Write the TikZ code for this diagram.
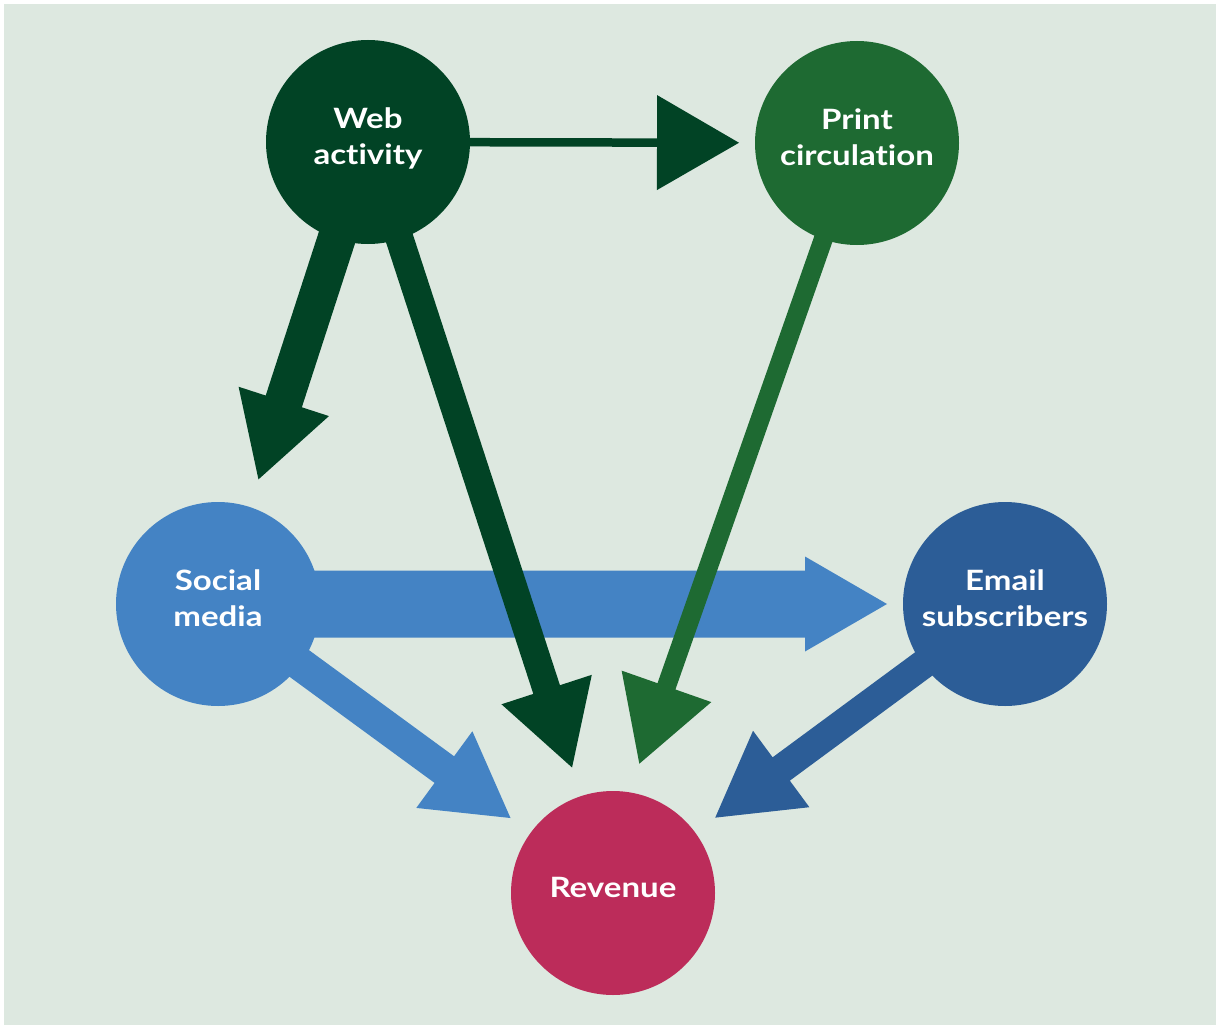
\documentclass[tikz,border=0pt]{standalone}
\usepackage{fontspec}
\setmainfont{Lato}[FakeStretch=1.18, Ligatures=NoCommon]
\usetikzlibrary{calc}
\definecolor{bgc}{RGB}{221,232,224}
\definecolor{webc}{RGB}{1,67,37}
\definecolor{printc}{RGB}{30,106,50}
\definecolor{socialc}{RGB}{68,131,196}
\definecolor{emailc}{RGB}{44,93,151}
\definecolor{revc}{RGB}{188,44,90}
\pgfdeclarelayer{bgl}
\pgfsetlayers{bgl,main}
% #1 colour, #2 from node, #3 to node, #4 half shaft width, #5 tip distance from target centre
\newcommand\fatarrow[5]{%
  \coordinate (fa-tip) at ($(#3.center)!#5!(#2.center)$);
  \coordinate (fa-base) at ($(fa-tip)!82pt!(#2.center)$);
  \fill[#1] ($(#2.center)!#4!90:(fa-tip)$) -- ($(fa-base)!#4!-90:(#2.center)$)
    -- ($(fa-base)!47.5pt!-90:(#2.center)$) -- (fa-tip)
    -- ($(fa-base)!47.5pt!90:(#2.center)$) -- ($(fa-base)!#4!90:(#2.center)$)
    -- ($(#2.center)!#4!-90:(fa-tip)$) -- cycle;
}
\tikzset{
  bubble/.style={circle, fill=#1, minimum size=204pt, inner sep=0pt, text=white,
    font=\bfseries\fontsize{28}{36}\selectfont, align=center,
    text height=20pt, text depth=11pt},
  twoline/.style={text height=56pt},
}
\begin{document}
\begin{tikzpicture}[x=1pt,y=-1pt]
\useasboundingbox (0,0) rectangle (1216,1025);
\begin{pgfonlayer}{bgl}
  \fill[bgc] (4,4) rectangle (1216,1025);
\end{pgfonlayer}
\node[bubble=webc, twoline] (web) at (368,142) {Web\\activity};
\node[bubble=printc, twoline] (print) at (857,143) {Print\\circulation};
\node[bubble=socialc, twoline] (social) at (218,604) {Social\\media};
\node[bubble=emailc, twoline] (email) at (1005,604) {Email\\subscribers};
\node[bubble=revc] (rev) at (613,893) {Revenue};
\coordinate (rev-aim) at ([xshift=-19pt]rev.center);
\begin{pgfonlayer}{bgl}
  \fatarrow{socialc}{social}{email}{33.5pt}{118pt}
  \fatarrow{socialc}{social}{rev}{16.5pt}{127pt}
  \fatarrow{emailc}{email}{rev}{14.5pt}{127pt}
  \fatarrow{webc}{web}{print}{4.25pt}{118pt}
  \fatarrow{webc}{web}{social}{19pt}{131pt}
  \fatarrow{webc}{web}{rev}{14pt}{132pt}
  \fatarrow{printc}{print}{rev-aim}{9.5pt}{137pt}
\end{pgfonlayer}
\end{tikzpicture}
\end{document}
